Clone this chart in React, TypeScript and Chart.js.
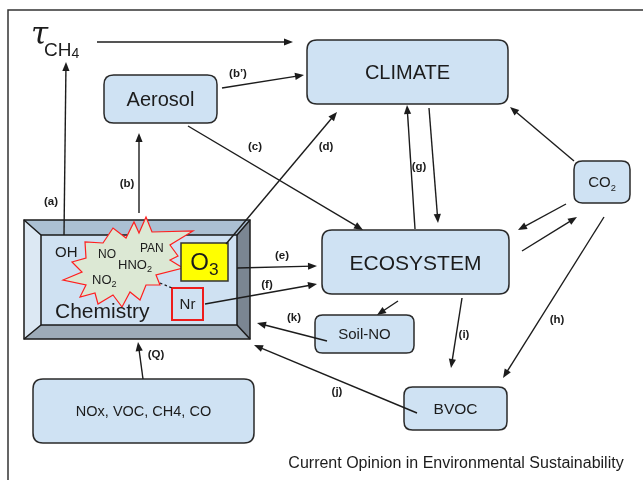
import React, { useEffect, useRef } from 'react';
import { Chart, registerables } from 'chart.js';
Chart.register(...registerables);

// ---------- diagram data (diagram units = reference pixels) ----------
const nodeLabels = ['CLIMATE', 'Aerosol', 'ECOSYSTEM', 'CO', 'Soil-NO', 'BVOC', 'NOx, VOC, CH4, CO'];
const nodeSubs = ['', '', '', '2', '', '', ''];
const nodeLeft = [307, 104, 322, 574, 315, 404, 33];
const nodeTop = [40, 75, 230, 161, 315, 387, 379];
const nodeRight = [508, 217, 509, 630, 414, 507, 254];
const nodeBottom = [104, 123, 294, 203, 353, 430, 443];

const arrowFromX = [97, 222, 188, 226, 415, 429, 574, 566, 522, 604, 237, 205, 398, 327, 462, 417, 143, 64, 139];
const arrowFromY = [42, 88, 126, 244, 229, 108, 161, 204, 251, 217, 268, 304, 301, 341, 298, 413, 379, 235, 213];
const arrowToX = [293, 304, 363, 337, 407, 438, 510, 518, 577, 503, 317, 317, 377, 257, 451, 254, 138, 66, 139];
const arrowToY = [42, 75, 230, 112, 105, 223, 107, 230, 217, 378, 266, 284, 315, 323, 368, 345, 342, 62, 133];

const edgeLabels = ['(a)', '(b)', '(b\u2019)', '(c)', '(d)', '(e)', '(f)', '(g)', '(h)', '(i)', '(j)', '(k)', '(Q)'];
const edgeLabelX = [51, 127, 238, 255, 326, 282, 267, 419, 557, 464, 337, 294, 156];
const edgeLabelY = [202, 184, 74, 147, 147, 256, 285, 167, 320, 335, 392, 318, 355];

const starX = [146, 152, 193, 170, 178, 170, 183, 156, 160, 146, 140, 130, 122, 113, 98, 95, 80, 86, 63, 82, 72, 86, 85, 103, 113, 126, 134, 139];
const starY = [217, 232, 231, 245, 256, 260, 268, 275, 285, 285, 300, 292, 307, 295, 304, 293, 297, 285, 280, 272, 262, 258, 242, 243, 228, 238, 222, 233];

const species = ['OH', 'NO', 'PAN', 'HNO', 'NO', 'Chemistry'];
const speciesSub = ['', '', '', '2', '2', ''];
const speciesX = [55, 98, 140, 118, 92, 55];
const speciesY = [252, 254, 248, 264, 279, 310];

const chemOuter = [24, 220, 250, 339];
const chemInner = [41, 235, 237, 325];
const o3Box = [181, 243, 228, 281];
const nrBox = [172, 288, 203, 320];
const dashFrom = [160, 283];
const dashTo = [172, 288];

const caption = 'Current Opinion in Environmental Sustainability';

// ---------- styles ----------
const nodeFont = [20, 20, 21, 15, 15, 15.5, 14.5];
const speciesFont = [15, 12, 12, 13, 13, 21];
const FONT = '"Liberation Sans", Arial, sans-serif';
const BOX_FILL = '#cfe2f3';
const INK = '#1c1c1c';

export default function App() {
  const ref = useRef<HTMLCanvasElement | null>(null);

  useEffect(() => {
    const canvas = ref.current;
    if (!canvas) return;

    const px = (chart: any, x: number) => chart.scales.x.getPixelForValue(x);
    const py = (chart: any, y: number) => chart.scales.y.getPixelForValue(y);

    const roundRect = (ctx: CanvasRenderingContext2D, x0: number, y0: number, x1: number, y1: number, r: number) => {
      ctx.beginPath();
      ctx.moveTo(x0 + r, y0);
      ctx.lineTo(x1 - r, y0);
      ctx.quadraticCurveTo(x1, y0, x1, y0 + r);
      ctx.lineTo(x1, y1 - r);
      ctx.quadraticCurveTo(x1, y1, x1 - r, y1);
      ctx.lineTo(x0 + r, y1);
      ctx.quadraticCurveTo(x0, y1, x0, y1 - r);
      ctx.lineTo(x0, y0 + r);
      ctx.quadraticCurveTo(x0, y0, x0 + r, y0);
      ctx.closePath();
    };

    const drawSubText = (
      ctx: CanvasRenderingContext2D, main: string, sub: string, x: number, cy: number,
      size: number, align: 'center' | 'left', subScale = 0.68
    ) => {
      ctx.font = `${size}px ${FONT}`;
      const wMain = ctx.measureText(main).width;
      const subSize = size * subScale;
      ctx.font = `${subSize}px ${FONT}`;
      const wSub = sub ? ctx.measureText(sub).width : 0;
      const total = wMain + wSub;
      const startX = align === 'center' ? x - total / 2 : x;
      const base = cy + size * 0.36;
      ctx.textAlign = 'left';
      ctx.textBaseline = 'alphabetic';
      ctx.fillStyle = INK;
      ctx.font = `${size}px ${FONT}`;
      ctx.fillText(main, startX, base);
      if (sub) {
        ctx.font = `${subSize}px ${FONT}`;
        ctx.fillText(sub, startX + wMain, base + size * 0.22);
      }
    };

    const poly = (ctx: CanvasRenderingContext2D, pts: number[][], fill: string) => {
      ctx.beginPath();
      ctx.moveTo(pts[0][0], pts[0][1]);
      for (let i = 1; i < pts.length; i++) ctx.lineTo(pts[i][0], pts[i][1]);
      ctx.closePath();
      ctx.fillStyle = fill;
      ctx.fill();
    };

    const backgroundPlugin = {
      id: 'diagramBack',
      beforeDatasetsDraw(chart: any) {
        const ctx: CanvasRenderingContext2D = chart.ctx;
        ctx.save();
        // outer frame
        ctx.strokeStyle = '#333';
        ctx.lineWidth = 1.5;
        ctx.beginPath();
        ctx.moveTo(px(chart, 8), py(chart, 490));
        ctx.lineTo(px(chart, 8), py(chart, 10));
        ctx.lineTo(px(chart, 660), py(chart, 10));
        ctx.stroke();

        // rounded boxes
        for (let i = 0; i < nodeLabels.length; i++) {
          const x0 = px(chart, nodeLeft[i]), y0 = py(chart, nodeTop[i]);
          const x1 = px(chart, nodeRight[i]), y1 = py(chart, nodeBottom[i]);
          const r = Math.min(10, (y1 - y0) * 0.2);
          roundRect(ctx, x0, y0, x1, y1, r);
          ctx.fillStyle = BOX_FILL;
          ctx.fill();
          ctx.strokeStyle = '#2a2a2a';
          ctx.lineWidth = 1.5;
          ctx.stroke();
          drawSubText(ctx, nodeLabels[i], nodeSubs[i], (x0 + x1) / 2, (y0 + y1) / 2, nodeFont[i], 'center', 0.62);
        }

        // chemistry bevelled box
        const ox0 = px(chart, chemOuter[0]), oy0 = py(chart, chemOuter[1]);
        const ox1 = px(chart, chemOuter[2]), oy1 = py(chart, chemOuter[3]);
        const ix0 = px(chart, chemInner[0]), iy0 = py(chart, chemInner[1]);
        const ix1 = px(chart, chemInner[2]), iy1 = py(chart, chemInner[3]);
        poly(ctx, [[ox0, oy0], [ix0, iy0], [ix0, iy1], [ox0, oy1]], '#dce8f3');
        poly(ctx, [[ox0, oy0], [ox1, oy0], [ix1, iy0], [ix0, iy0]], '#abc0d3');
        poly(ctx, [[ox1, oy0], [ox1, oy1], [ix1, iy1], [ix1, iy0]], '#7b8692');
        poly(ctx, [[ox0, oy1], [ox1, oy1], [ix1, iy1], [ix0, iy1]], '#9dabb8');
        ctx.fillStyle = '#cfe1f2';
        ctx.fillRect(ix0, iy0, ix1 - ix0, iy1 - iy0);
        ctx.strokeStyle = '#1a1a1a';
        ctx.lineWidth = 1.5;
        ctx.strokeRect(ox0, oy0, ox1 - ox0, oy1 - oy0);
        ctx.strokeRect(ix0, iy0, ix1 - ix0, iy1 - iy0);
        ctx.beginPath();
        ctx.moveTo(ox0, oy0); ctx.lineTo(ix0, iy0);
        ctx.moveTo(ox1, oy0); ctx.lineTo(ix1, iy0);
        ctx.moveTo(ox1, oy1); ctx.lineTo(ix1, iy1);
        ctx.moveTo(ox0, oy1); ctx.lineTo(ix0, iy1);
        ctx.stroke();

        // starburst
        ctx.beginPath();
        for (let i = 0; i < starX.length; i++) {
          const sx = px(chart, starX[i]), sy = py(chart, starY[i]);
          if (i === 0) ctx.moveTo(sx, sy); else ctx.lineTo(sx, sy);
        }
        ctx.closePath();
        ctx.fillStyle = '#dce8d4';
        ctx.fill();
        ctx.strokeStyle = '#ff1f1f';
        ctx.lineWidth = 1.2;
        ctx.stroke();

        // O3 box
        const qx0 = px(chart, o3Box[0]), qy0 = py(chart, o3Box[1]);
        const qx1 = px(chart, o3Box[2]), qy1 = py(chart, o3Box[3]);
        ctx.fillStyle = '#ffff00';
        ctx.fillRect(qx0, qy0, qx1 - qx0, qy1 - qy0);
        ctx.strokeStyle = '#333';
        ctx.lineWidth = 1.5;
        ctx.strokeRect(qx0, qy0, qx1 - qx0, qy1 - qy0);
        drawSubText(ctx, 'O', '3', (qx0 + qx1) / 2, (qy0 + qy1) / 2 - 1, 24, 'center', 0.72);

        // Nr box
        const nx0 = px(chart, nrBox[0]), ny0 = py(chart, nrBox[1]);
        const nx1 = px(chart, nrBox[2]), ny1 = py(chart, nrBox[3]);
        ctx.strokeStyle = '#ee1c1c';
        ctx.lineWidth = 2;
        ctx.strokeRect(nx0, ny0, nx1 - nx0, ny1 - ny0);
        drawSubText(ctx, 'Nr', '', (nx0 + nx1) / 2, (ny0 + ny1) / 2, 15, 'center');

        // species text
        for (let i = 0; i < species.length; i++) {
          drawSubText(ctx, species[i], speciesSub[i], px(chart, speciesX[i]), py(chart, speciesY[i]), speciesFont[i], 'left', 0.7);
        }

        // tau CH4
        ctx.fillStyle = INK;
        ctx.textAlign = 'left';
        ctx.textBaseline = 'alphabetic';
        ctx.font = `italic 31px "DejaVu Serif", serif`;
        ctx.fillText('\u03C4', px(chart, 31), py(chart, 44));
        ctx.font = `19px ${FONT}`;
        ctx.fillText('CH', px(chart, 44), py(chart, 56));
        const chW = ctx.measureText('CH').width;
        ctx.font = `14px ${FONT}`;
        ctx.fillText('4', px(chart, 44) + chW, py(chart, 58));

        // caption
        ctx.font = `16px ${FONT}`;
        ctx.textAlign = 'center';
        ctx.textBaseline = 'middle';
        ctx.fillText(caption, px(chart, 456), py(chart, 464));
        ctx.restore();
      },
    };

    const foregroundPlugin = {
      id: 'diagramFront',
      afterDatasetsDraw(chart: any) {
        const ctx: CanvasRenderingContext2D = chart.ctx;
        ctx.save();
        // arrowheads
        ctx.fillStyle = INK;
        for (let i = 0; i < arrowFromX.length; i++) {
          const x0 = px(chart, arrowFromX[i]), y0 = py(chart, arrowFromY[i]);
          const x1 = px(chart, arrowToX[i]), y1 = py(chart, arrowToY[i]);
          const a = Math.atan2(y1 - y0, x1 - x0);
          const L = 9, Wd = 3.6;
          ctx.beginPath();
          ctx.moveTo(x1, y1);
          ctx.lineTo(x1 - L * Math.cos(a) + Wd * Math.sin(a), y1 - L * Math.sin(a) - Wd * Math.cos(a));
          ctx.lineTo(x1 - L * Math.cos(a) - Wd * Math.sin(a), y1 - L * Math.sin(a) + Wd * Math.cos(a));
          ctx.closePath();
          ctx.fill();
        }
        // edge labels
        ctx.font = `bold 11.5px ${FONT}`;
        ctx.textAlign = 'center';
        ctx.textBaseline = 'middle';
        for (let i = 0; i < edgeLabels.length; i++) {
          ctx.fillText(edgeLabels[i], px(chart, edgeLabelX[i]), py(chart, edgeLabelY[i]));
        }
        ctx.restore();
      },
    };

    const datasets: any[] = arrowFromX.map((_, i) => {
      const a = Math.atan2(arrowToY[i] - arrowFromY[i], arrowToX[i] - arrowFromX[i]);
      return {
        data: [
          { x: arrowFromX[i], y: arrowFromY[i] },
          { x: arrowToX[i] - 4 * Math.cos(a), y: arrowToY[i] - 4 * Math.sin(a) },
        ],
        showLine: true,
        borderColor: INK,
        borderWidth: 1.4,
        pointRadius: 0,
        fill: false,
      };
    });
    datasets.push({
      data: [{ x: dashFrom[0], y: dashFrom[1] }, { x: dashTo[0], y: dashTo[1] }],
      showLine: true,
      borderColor: INK,
      borderWidth: 1.2,
      borderDash: [2.5, 2.5],
      pointRadius: 0,
      fill: false,
    });

    const chart = new Chart(canvas, {
      type: 'scatter',
      data: { datasets },
      options: {
        responsive: false,
        animation: false,
        devicePixelRatio: 1,
        layout: { padding: 0 },
        scales: {
          x: { type: 'linear', min: 0, max: 643, display: false },
          y: { type: 'linear', min: 0, max: 480, reverse: true, display: false },
        },
        plugins: { legend: { display: false }, tooltip: { enabled: false } },
        events: [],
      },
      plugins: [backgroundPlugin, foregroundPlugin],
    } as any);

    return () => chart.destroy();
  }, []);

  return (
    <div style={{ position: 'fixed', left: 0, top: 0, width: 643, height: 480, background: '#fff' }}>
      <canvas ref={ref} width={643} height={480} style={{ display: 'block', width: 643, height: 480 }} />
    </div>
  );
}
